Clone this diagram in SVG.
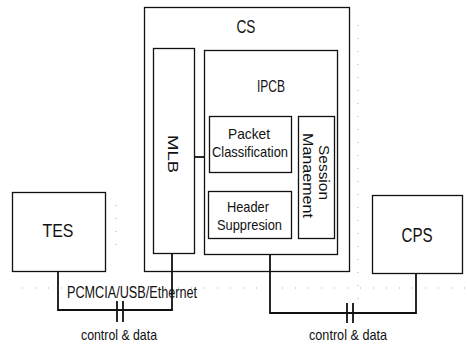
<svg xmlns="http://www.w3.org/2000/svg" width="467" height="345" viewBox="0 0 467 345">
  <style>
    .box { fill: none; stroke: #111; stroke-width: 1.3; }
    .wire { fill: none; stroke: #111; stroke-width: 1.8; }
    .guide { fill: none; stroke: #b0b0b0; stroke-width: 1; stroke-dasharray: 1 12; }
    text { font-family: "Liberation Sans Narrow", "Liberation Sans", Arial, sans-serif; fill: #111; }
    .mid { text-anchor: middle; }
  </style>

  <rect width="467" height="345" fill="#fff"/>

  <!-- faint construction guides -->
  <g id="guides">
    <line class="guide" x1="358" y1="25" x2="358" y2="300"/>
    <line class="guide" x1="22" y1="288" x2="467" y2="288"/>
    <line class="guide" x1="116" y1="205" x2="116" y2="255"/>
  </g>

  <g id="cs">
    <rect class="box" x="144.5" y="7.5" width="205" height="264"/>
    <text class="mid" x="246" y="33" font-size="19" textLength="19" lengthAdjust="spacingAndGlyphs">CS</text>
  </g>

  <g id="mlb">
    <rect class="box" x="153.5" y="48.5" width="41" height="205"/>
    <text class="mid" transform="translate(168,154) rotate(90)" font-size="15" textLength="38" lengthAdjust="spacingAndGlyphs">MLB</text>
  </g>

  <g id="ipcb">
    <rect class="box" x="204.5" y="50.5" width="133" height="204"/>
    <text class="mid" x="271" y="92" font-size="16" textLength="28" lengthAdjust="spacingAndGlyphs">IPCB</text>
  </g>

  <g id="packet-classification">
    <rect class="box" x="209.5" y="116.5" width="82" height="56"/>
    <text class="mid" x="249" y="139" font-size="15" textLength="42" lengthAdjust="spacingAndGlyphs">Packet</text>
    <text class="mid" x="250" y="157" font-size="15" textLength="76" lengthAdjust="spacingAndGlyphs">Classification</text>
  </g>

  <g id="header-suppresion">
    <rect class="box" x="208.5" y="191.5" width="83" height="47"/>
    <text class="mid" x="248" y="212" font-size="15" textLength="42" lengthAdjust="spacingAndGlyphs">Header</text>
    <text class="mid" x="249.5" y="230" font-size="15" textLength="65" lengthAdjust="spacingAndGlyphs">Suppresion</text>
  </g>

  <g id="session-management">
    <rect class="box" x="298.5" y="116.5" width="36" height="122"/>
    <text class="mid" transform="translate(319,172.5) rotate(90)" font-size="15" textLength="55" lengthAdjust="spacingAndGlyphs">Session</text>
    <text class="mid" transform="translate(303,175.5) rotate(90)" font-size="15" textLength="85" lengthAdjust="spacingAndGlyphs">Manaement</text>
  </g>

  <g id="tes">
    <rect class="box" x="12.5" y="192.5" width="93" height="79"/>
    <text class="mid" x="58" y="237" font-size="19" textLength="31" lengthAdjust="spacingAndGlyphs">TES</text>
  </g>

  <g id="cps">
    <rect class="box" x="372.5" y="195.5" width="90" height="78"/>
    <text class="mid" x="417" y="242" font-size="20" textLength="31" lengthAdjust="spacingAndGlyphs">CPS</text>
  </g>

  <g id="connectors">
    <line class="wire" x1="194.5" y1="157" x2="204.5" y2="157"/>
    <!-- TES to MLB link -->
    <polyline class="wire" points="58,271.5 58,310 172,310 172,253.5"/>
    <line class="wire" x1="117" y1="301" x2="117" y2="322"/>
    <line class="wire" x1="123" y1="301" x2="123" y2="322"/>
    <!-- IPCB to CPS link -->
    <polyline class="wire" points="270,254.5 270,313 416,313 416,273.5"/>
    <line class="wire" x1="347" y1="303" x2="347" y2="323"/>
    <line class="wire" x1="353" y1="303" x2="353" y2="323"/>
  </g>

  <g id="labels">
    <text x="67" y="298" font-size="16" textLength="130" lengthAdjust="spacingAndGlyphs">PCMCIA/USB/Ethernet</text>
    <text x="81" y="340" font-size="15" textLength="76" lengthAdjust="spacingAndGlyphs">control &amp; data</text>
    <text x="309" y="340" font-size="15" textLength="78" lengthAdjust="spacingAndGlyphs">control &amp; data</text>
  </g>
</svg>
